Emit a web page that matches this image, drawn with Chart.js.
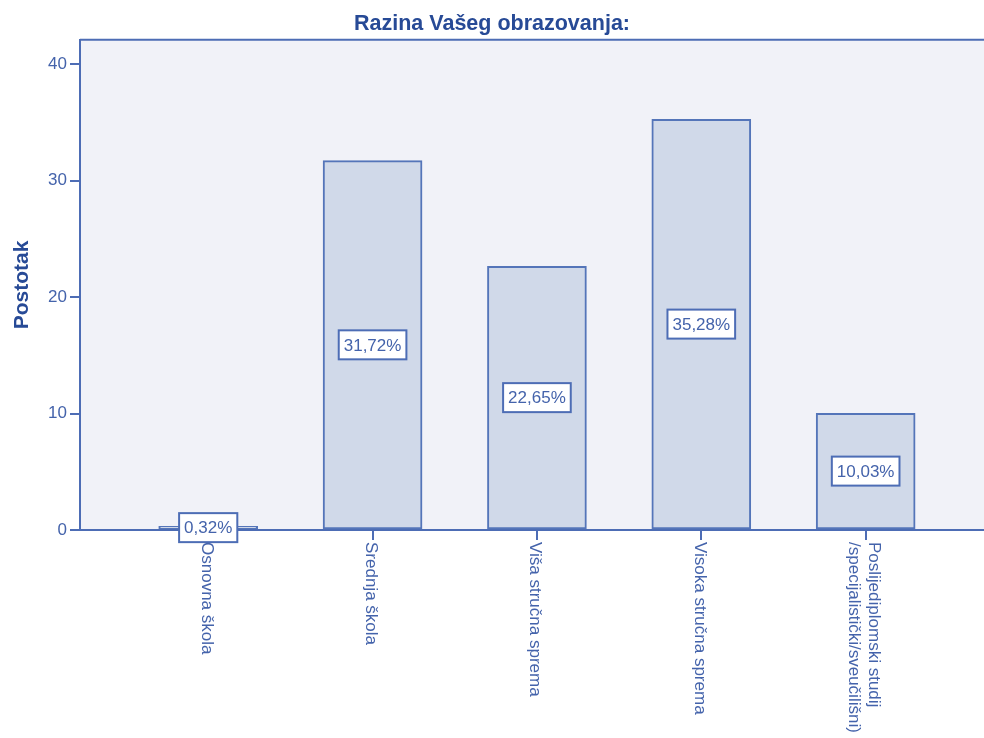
<!DOCTYPE html>
<html>
<head>
<meta charset="utf-8">
<script src="https://cdn.jsdelivr.net/npm/chart.js@4"></script>
<style>
  html, body { margin: 0; padding: 0; background: #ffffff; }
  #wrap { width: 984px; height: 738px; }
</style>
</head>
<body>
<div id="wrap"><canvas id="eduChart" width="984" height="738"></canvas></div>
<script>
// ===== Data =====
const categories = [
  "Osnovna škola",
  "Srednja škola",
  "Viša stručna sprema",
  "Visoka stručna sprema",
  "Poslijediplomski studij\n/specijalistički/sveučilišni)"
];
const percentages = [0.32, 31.72, 22.65, 35.28, 10.03];
const valueLabels = ["0,32%", "31,72%", "22,65%", "35,28%", "10,03%"];
const yTicks = [0, 10, 20, 30, 40];

// ===== Colours =====
const textBlue = "#4463ab";
const lineBlue = "#4d6db5";
const titleBlue = "#274a96";

// ===== Plot background + top border =====
const plotBackground = {
  id: "plotBackground",
  beforeDraw(chart) {
    const { ctx, chartArea: a } = chart;
    ctx.save();
    ctx.fillStyle = "#f1f2f8";
    ctx.fillRect(a.left, a.top, a.right - a.left, a.bottom - a.top);
    ctx.strokeStyle = lineBlue;
    ctx.lineWidth = 2;
    ctx.beginPath();
    ctx.moveTo(a.left, a.top);
    ctx.lineTo(a.right, a.top);
    ctx.stroke();
    ctx.restore();
  }
};

// ===== Boxed value labels in middle of bars =====
const valueBoxes = {
  id: "valueBoxes",
  afterDatasetsDraw(chart) {
    const { ctx } = chart;
    const bars = chart.getDatasetMeta(0).data;
    ctx.save();
    ctx.font = "17px 'Liberation Sans', Arial, sans-serif";
    ctx.textAlign = "center";
    ctx.textBaseline = "middle";
    bars.forEach((bar, i) => {
      const txt = valueLabels[i];
      const cy = (bar.y + bar.base) / 2;
      const w = ctx.measureText(txt).width + 10;
      const h = 29;
      ctx.fillStyle = "#ffffff";
      ctx.fillRect(bar.x - w / 2, cy - h / 2, w, h);
      ctx.strokeStyle = lineBlue;
      ctx.lineWidth = 2;
      ctx.strokeRect(bar.x - w / 2, cy - h / 2, w, h);
      ctx.fillStyle = textBlue;
      ctx.fillText(txt, bar.x, cy + 1);
    });
    ctx.restore();
  }
};

// ===== Category labels, rotated clockwise =====
const rotatedLabels = {
  id: "rotatedLabels",
  afterDraw(chart) {
    const { ctx, chartArea: a } = chart;
    const xScale = chart.scales.x;
    ctx.save();
    ctx.font = "17px 'Liberation Sans', Arial, sans-serif";
    ctx.fillStyle = textBlue;
    ctx.textAlign = "left";
    ctx.textBaseline = "middle";
    categories.forEach((c, i) => {
      const lines = c.split("\n");
      const lh = 20;
      const x = xScale.getPixelForValue(i) - 2;
      ctx.save();
      ctx.translate(x, a.bottom + 12);
      ctx.rotate(Math.PI / 2);
      lines.forEach((ln, k) => {
        const off = (k - (lines.length - 1) / 2) * lh;
        ctx.fillText(ln, 0, off);
      });
      ctx.restore();
    });
    ctx.restore();
  }
};

// ===== Chart =====
const ctx = document.getElementById("eduChart").getContext("2d");
new Chart(ctx, {
  type: "bar",
  data: {
    datasets: [{
      data: percentages.map((v, i) => ({ x: i, y: v })),
      backgroundColor: "#d0d9e9",
      borderColor: "#5475b9",
      borderWidth: 2,
      borderSkipped: false,
      barThickness: 99
    }]
  },
  options: {
    responsive: false,
    animation: false,
    layout: { padding: 0 },
    plugins: {
      legend: { display: false },
      tooltip: { enabled: false },
      title: {
        display: true,
        text: "Razina Vašeg obrazovanja:",
        color: titleBlue,
        font: { family: "'Liberation Sans', Arial, sans-serif", size: 21.5, weight: "bold", lineHeight: 1.2 },
        padding: { top: 11, bottom: 3 }
      }
    },
    scales: {
      x: {
        type: "linear",
        min: -0.78,
        max: 4.72,
        offset: false,
        afterBuildTicks: (s) => { s.ticks = categories.map((c, i) => ({ value: i })); },
        afterFit: (s) => { s.height = 208; },
        ticks: { display: false },
        grid: { offset: false, drawOnChartArea: false, drawTicks: true, tickLength: 10, color: lineBlue, lineWidth: 2 },
        border: { display: true, color: lineBlue, width: 2 }
      },
      y: {
        min: 0,
        max: 42.1,
        afterBuildTicks: (s) => { s.ticks = yTicks.map(v => ({ value: v })); },
        afterFit: (s) => { s.width = 80; },
        ticks: {
          color: textBlue,
          padding: 3,
          font: { family: "'Liberation Sans', Arial, sans-serif", size: 17 }
        },
        grid: { drawOnChartArea: false, drawTicks: true, tickLength: 10, color: lineBlue, lineWidth: 2 },
        border: { display: true, color: lineBlue, width: 2 },
        title: {
          display: true,
          text: "Postotak",
          color: titleBlue,
          padding: { top: 10, bottom: 0 },
          font: { family: "'Liberation Sans', Arial, sans-serif", size: 21, weight: "bold", lineHeight: 1.2 }
        }
      }
    }
  },
  plugins: [plotBackground, valueBoxes, rotatedLabels]
});
</script>
</body>
</html>
